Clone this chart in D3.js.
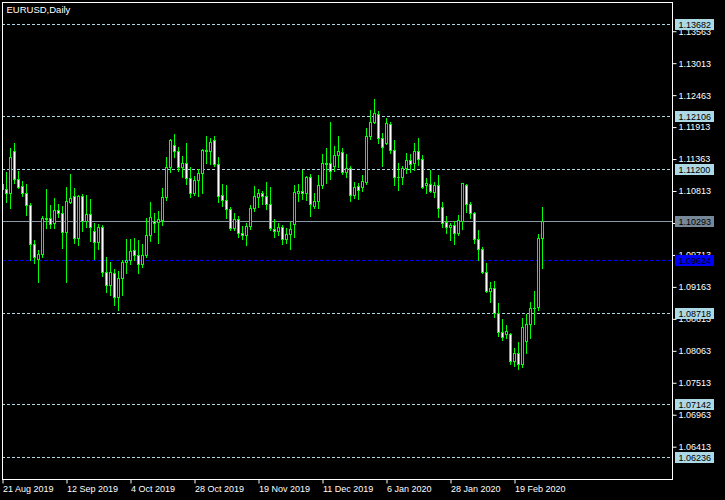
<!DOCTYPE html>
<html>
<head>
<meta charset="utf-8">
<script src="https://cdn.jsdelivr.net/npm/d3@7"></script>
<style>
html,body{margin:0;padding:0;background:#000;}
svg{display:block;}
text{font-family:"Liberation Sans",Arial,sans-serif;}
</style>
</head>
<body>
<svg id="chart" width="725" height="500"></svg>
<script>
const title = "EURUSD,Daily";
const dates = [
"2019-08-21","2019-08-22","2019-08-23","2019-08-26","2019-08-27","2019-08-28","2019-08-29","2019-08-30",
"2019-09-02","2019-09-03","2019-09-04","2019-09-05","2019-09-06","2019-09-09","2019-09-10","2019-09-11","2019-09-12","2019-09-13","2019-09-16","2019-09-17","2019-09-18","2019-09-19","2019-09-20","2019-09-23","2019-09-24","2019-09-25","2019-09-26","2019-09-27","2019-09-30",
"2019-10-01","2019-10-02","2019-10-03","2019-10-04","2019-10-07","2019-10-08","2019-10-09","2019-10-10","2019-10-11","2019-10-14","2019-10-15","2019-10-16","2019-10-17","2019-10-18","2019-10-21","2019-10-22","2019-10-23","2019-10-24","2019-10-25","2019-10-28","2019-10-29","2019-10-30","2019-10-31",
"2019-11-01","2019-11-04","2019-11-05","2019-11-06","2019-11-07","2019-11-08","2019-11-11","2019-11-12","2019-11-13","2019-11-14","2019-11-15","2019-11-18","2019-11-19","2019-11-20","2019-11-21","2019-11-22","2019-11-25","2019-11-26","2019-11-27","2019-11-28","2019-11-29",
"2019-12-02","2019-12-03","2019-12-04","2019-12-05","2019-12-06","2019-12-09","2019-12-10","2019-12-11","2019-12-12","2019-12-13","2019-12-16","2019-12-17","2019-12-18","2019-12-19","2019-12-20","2019-12-23","2019-12-24","2019-12-26","2019-12-27","2019-12-30","2019-12-31",
"2020-01-02","2020-01-03","2020-01-06","2020-01-07","2020-01-08","2020-01-09","2020-01-10","2020-01-13","2020-01-14","2020-01-15","2020-01-16","2020-01-17","2020-01-20","2020-01-21","2020-01-22","2020-01-23","2020-01-24","2020-01-27","2020-01-28","2020-01-29","2020-01-30","2020-01-31",
"2020-02-03","2020-02-04","2020-02-05","2020-02-06","2020-02-07","2020-02-10","2020-02-11","2020-02-12","2020-02-13","2020-02-14","2020-02-17","2020-02-18","2020-02-19","2020-02-20","2020-02-21","2020-02-24","2020-02-25","2020-02-26","2020-02-27","2020-02-28"
];
const open = [
1.10933,1.10842,1.10784,1.11496,1.11014,1.10894,1.10773,1.10567,1.09896,1.09648,
1.09734,1.10343,1.10343,1.10257,1.10486,1.10429,1.10102,1.10629,1.10722,1.09999,
1.10727,1.10292,1.10412,1.10120,1.09930,1.10188,1.09414,1.09191,1.09397,1.08984,
1.09311,1.09586,1.09621,1.09793,1.09707,1.09557,1.09707,1.10051,1.10297,1.10285,
1.10314,1.10704,1.11231,1.11599,1.11496,1.11231,1.11289,1.11031,1.10784,1.10997,
1.11117,1.11513,1.11506,1.11685,1.11272,1.10739,1.10653,1.10498,1.10182,1.10326,
1.10085,1.10056,1.10206,1.10515,1.10715,1.10773,1.10722,1.10584,1.10159,1.10125,
1.10188,1.09982,1.10068,1.10240,1.10773,1.10813,1.10773,1.11048,1.10560,1.10641,
1.10911,1.11282,1.11289,1.11243,1.11427,1.11484,1.11134,1.11203,1.10749,1.10899,
1.10887,1.10973,1.11754,1.11994,1.12137,1.11719,1.11644,1.11965,1.11518,1.11048,
1.11048,1.11203,1.11346,1.11289,1.11501,1.11358,1.10911,1.10933,1.10801,1.10916,
1.10532,1.10285,1.10188,1.10228,1.10096,1.10302,1.10916,1.10584,1.10429,1.09982,
1.09820,1.09414,1.09098,1.09139,1.08709,1.08393,1.08348,1.08353,1.07894,1.08021,
1.07832,1.08238,1.08525,1.08795,1.08812,1.09999
];
const high = [
1.11002,1.11145,1.11552,1.11638,1.11157,1.10985,1.10933,1.10601,1.09970,1.09798,
1.10383,1.10847,1.10572,1.10687,1.10589,1.10555,1.10887,1.11105,1.10859,1.10744,
1.10761,1.10744,1.10675,1.10268,1.10245,1.10228,1.09672,1.09586,1.09466,1.09442,
1.09626,1.09987,1.09987,1.10004,1.09970,1.09901,1.10348,1.10624,1.10429,1.10474,
1.10859,1.11398,1.11707,1.11793,1.11575,1.11415,1.11638,1.11231,1.11071,1.11186,
1.11530,1.11759,1.11724,1.11759,1.11392,1.10933,1.10916,1.10532,1.10429,1.10383,
1.10211,1.10268,1.10572,1.10899,1.10842,1.10813,1.10968,1.10876,1.10331,1.10262,
1.10223,1.10176,1.10280,1.10916,1.10928,1.11174,1.11071,1.11105,1.10773,1.11088,
1.11449,1.11547,1.12000,1.11587,1.11759,1.11552,1.11449,1.11243,1.10968,1.10945,
1.11088,1.11896,1.12206,1.12395,1.12194,1.11805,1.12068,1.12000,1.11690,1.11294,
1.11243,1.11466,1.11449,1.11644,1.11719,1.11432,1.11031,1.11174,1.10973,1.11088,
1.10624,1.10383,1.10257,1.10302,1.10400,1.10956,1.10933,1.10629,1.10457,1.10142,
1.09844,1.09569,1.09253,1.09265,1.08881,1.08611,1.08508,1.08365,1.08107,1.08210,
1.08623,1.08697,1.08898,1.09093,1.10073,1.10532
];
const low = [
1.10796,1.10629,1.10520,1.10945,1.10859,1.10727,1.10405,1.09626,1.09569,1.09253,
1.09683,1.10171,1.10171,1.10171,1.10371,1.09838,1.09253,1.10601,1.09924,1.09884,
1.10130,1.10199,1.09958,1.09648,1.09820,1.09356,1.09076,1.09029,1.08847,1.08766,
1.09029,1.09397,1.09557,1.09626,1.09408,1.09511,1.09683,1.09948,1.10108,1.09913,
1.10223,1.10658,1.11145,1.11392,1.11162,1.11059,1.10933,1.10715,1.10744,1.10727,
1.10784,1.11289,1.11277,1.11243,1.10629,1.10555,1.10354,1.10142,1.10142,1.10016,
1.09987,1.09889,1.10154,1.10474,1.10532,1.10589,1.10498,1.10142,1.10016,1.10056,
1.09901,1.09913,1.09810,1.10027,1.10646,1.10670,1.10658,1.10388,1.10515,1.10515,
1.10859,1.10956,1.11014,1.11162,1.11231,1.11105,1.11048,1.10641,1.10698,1.10680,
1.10808,1.10933,1.11712,1.11977,1.11633,1.11243,1.11621,1.11466,1.10916,1.10830,
1.10933,1.11122,1.11140,1.11174,1.11260,1.10859,1.10773,1.10801,1.10704,1.10371,
1.10188,1.10085,1.09970,1.09901,1.10056,1.10154,1.10457,1.10354,1.09924,1.09626,
1.09397,1.09081,1.08909,1.08640,1.08319,1.08250,1.08279,1.07837,1.07803,1.07751,
1.07791,1.08032,1.08290,1.08525,1.08766,1.09494
];
const close = [
1.10847,1.10784,1.11392,1.11014,1.10887,1.10773,1.10567,1.09896,1.09683,1.09729,
1.10348,1.10331,1.10240,1.10486,1.10429,1.10102,1.10641,1.10687,1.09999,1.10727,
1.10292,1.10412,1.10188,1.09930,1.10188,1.09414,1.09191,1.09414,1.08984,1.09311,
1.09586,1.09621,1.09781,1.09707,1.09557,1.09707,1.10051,1.10360,1.10262,1.10326,
1.10704,1.11231,1.11690,1.11496,1.11231,1.11294,1.11031,1.10784,1.10997,1.11117,
1.11518,1.11501,1.11650,1.11272,1.10732,1.10653,1.10498,1.10182,1.10326,1.10085,
1.10056,1.10206,1.10515,1.10722,1.10773,1.10722,1.10584,1.10182,1.10125,1.10188,
1.09982,1.10068,1.10154,1.10790,1.10813,1.10773,1.11048,1.10589,1.10641,1.10911,
1.11289,1.11289,1.11162,1.11427,1.11496,1.11134,1.11203,1.10749,1.10887,1.10830,
1.10985,1.11754,1.11994,1.12160,1.11719,1.11564,1.11977,1.11518,1.11048,1.11054,
1.11203,1.11346,1.11277,1.11501,1.11358,1.10887,1.10945,1.10818,1.10916,1.10526,
1.10257,1.10188,1.10228,1.10096,1.10314,1.10945,1.10584,1.10429,1.09982,1.09820,
1.09425,1.09098,1.09144,1.08720,1.08393,1.08296,1.08400,1.07894,1.08032,1.07837,
1.08468,1.08525,1.08795,1.08806,1.09999,1.10293
];
const priceTicks = [1.13563,1.13013,1.12463,1.11913,1.11363,1.10813,1.10263,1.09713,1.09163,1.08613,1.08063,1.07513,1.06963,1.06413];
const tickDates = ["2019-08-21","2019-09-12","2019-10-04","2019-10-28","2019-11-19","2019-12-11","2020-01-06","2020-01-28","2020-02-19"];
const tickLabels = ["21 Aug 2019","12 Sep 2019","4 Oct 2019","28 Oct 2019","19 Nov 2019","11 Dec 2019","6 Jan 2020","28 Jan 2020","19 Feb 2020"];
const pivotLevels = [1.13682,1.12106,1.11200,1.08718,1.07142,1.06236];
const lastPrice = 1.10293;
const blueLevel = 1.09624;

const svg = d3.select("#chart");
const L = 2, R = 672, T = 2, B = 479;
svg.append("rect").attr("x",0).attr("y",0).attr("width",725).attr("height",500).attr("fill","#000");

const x = d3.scalePoint().domain(dates).range([2.5, 542.5]);
const y = d3.scaleLinear().domain([1.05857, 1.14066]).range([B, T]);
const py = v => Math.round(y(v)) + 0.5;

svg.append("clipPath").attr("id","plot").append("rect")
  .attr("x",L+1).attr("y",T+1).attr("width",R-L-1).attr("height",B-T-1);
const plot = svg.append("g").attr("clip-path","url(#plot)");

// level lines
plot.selectAll("line.pivot").data(pivotLevels).join("line")
  .attr("class","pivot").attr("x1",L).attr("x2",R)
  .attr("y1",py).attr("y2",py)
  .attr("stroke","#add8e6").attr("stroke-width",1).attr("stroke-dasharray","3,2");
plot.append("line").attr("x1",L).attr("x2",R).attr("y1",py(lastPrice)).attr("y2",py(lastPrice))
  .attr("stroke","#8a99a6").attr("stroke-width",1);
plot.append("line").attr("x1",L).attr("x2",R).attr("y1",py(blueLevel)).attr("y2",py(blueLevel))
  .attr("stroke","#0000ff").attr("stroke-width",1.2).attr("stroke-dasharray","4,2");

// candles
const bars = dates.map((d,i)=>({d,o:open[i],h:high[i],l:low[i],c:close[i]}));
const g = plot.append("g");
bars.forEach(b=>{
  const cx = x(b.d);
  g.append("line").attr("x1",cx).attr("x2",cx)
    .attr("y1",Math.round(y(b.h))).attr("y2",Math.round(y(b.l))+1)
    .attr("stroke","#00ff00").attr("stroke-width",1);
  const top = Math.round(y(Math.max(b.o,b.c)));
  const bot = Math.round(y(Math.min(b.o,b.c)));
  const bull = b.c >= b.o;
  if (bot - top < 1) {
    g.append("line").attr("x1",cx-1.5).attr("x2",cx+1.5).attr("y1",top+0.5).attr("y2",top+0.5)
      .attr("stroke","#00ff00").attr("stroke-width",1);
  } else {
    g.append("rect").attr("x",cx-1).attr("y",top+0.5).attr("width",2).attr("height",bot-top)
      .attr("fill",bull?"#000":"#fff").attr("stroke","#00ff00").attr("stroke-width",1);
  }
});

// frame
svg.append("rect").attr("x",L+0.5).attr("y",T+0.5).attr("width",R-L).attr("height",B-T)
  .attr("fill","none").attr("stroke","#fff").attr("stroke-width",1);

// y axis
const yAxis = svg.append("g").attr("transform",`translate(${R+0.5},0)`)
  .call(d3.axisRight(y).tickValues(priceTicks).tickSize(4).tickPadding(2).tickFormat(d3.format(".5f")));
yAxis.select(".domain").remove();
yAxis.selectAll("line").attr("stroke","#fff");
yAxis.selectAll("text").attr("fill","#fff").attr("font-size","9px")
  .attr("font-family","'Liberation Sans',Arial,sans-serif");

// x axis
const xAxis = svg.append("g").attr("transform",`translate(0,${B+0.5})`)
  .call(d3.axisBottom(x).tickValues(tickDates).tickSize(4).tickFormat((d,i)=>tickLabels[i]));
xAxis.select(".domain").remove();
xAxis.selectAll("line").attr("stroke","#fff");
xAxis.selectAll("text").attr("fill","#fff").attr("font-size","9px")
  .attr("text-anchor","start").attr("x",0).attr("y",12).attr("dy",null)
  .attr("font-family","'Liberation Sans',Arial,sans-serif");

// price labels
const labels = pivotLevels.map(v=>({v,fill:"#add8e6"}))
  .concat([{v:lastPrice,fill:"#778899"},{v:blueLevel,fill:"#0000ff"}]);
const lg = svg.append("g");
labels.forEach(lb=>{
  const yy = Math.round(y(lb.v));
  lg.append("rect").attr("x",675).attr("y",yy-5).attr("width",39).attr("height",11).attr("fill",lb.fill);
  lg.append("text").attr("x",678.5).attr("y",yy+3.5).attr("fill","#000").attr("font-size","9px")
    .text(d3.format(".5f")(lb.v));
});

// title
svg.append("text").attr("x",6.5).attr("y",13).attr("fill","#fff").attr("font-size","9.5px").text(title);
</script>
</body>
</html>
